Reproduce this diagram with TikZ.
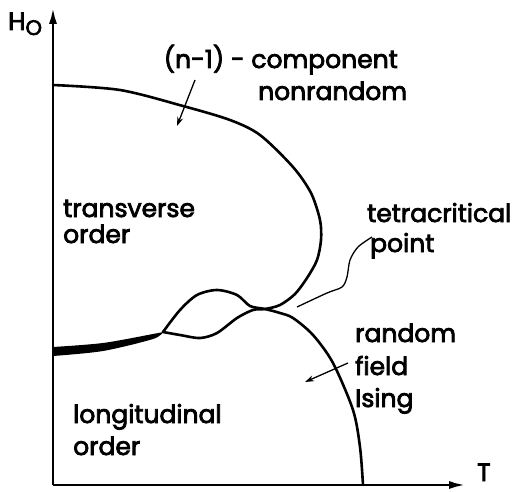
\documentclass[tikz,border=0pt]{standalone}
\usepackage{fontspec}
\setmainfont{Poppins}[FakeBold=3]
\usetikzlibrary{calc,arrows.meta}
\tikzset{
  axis/.style={line width=2.8pt, -{Latex[length=17pt,width=8pt]}},
  phase/.style={line width=2.6pt, line cap=round},
  pointer/.style={line width=1.3pt, -{Stealth[length=9pt,width=6pt]}},
  lbl/.style={font=\fontsize{25}{28}\selectfont, inner sep=0pt},
}
\begin{document}
\begin{tikzpicture}[x=1pt,y=1pt]
  \useasboundingbox (-53,-6) rectangle (469,485);

  % Axes
  \coordinate (O) at (0,0);
  \coordinate (Htip) at (0,478);
  \coordinate (Ttip) at (413,0);
  \draw[axis] (O) -- (Htip);
  \draw[axis] (O) -- (Ttip);
  \node[lbl, anchor=base west] (Hlabel) at (-45,455) {H\raisebox{-5pt}{\fontsize{21}{24}\selectfont O}};
  \node[lbl, anchor=base west] (Tlabel) at (424,4) {T};

  % Tetracritical point and lens junction
  \coordinate (P) at (212,176);
  \coordinate (J) at (110,153);

  % Outer phase boundary, continuing into lower lobe of the lens
  \draw[phase] plot[smooth] coordinates {(0,400) (67,395) (130,379) (177,365) (207,350)
    (240,318) (258,292) (267,265) (268,245) (264,225) (254,207) (242,191) (227,180)
    (P) (200,175) (184,167) (164,152) (147,147) (127,150) (J)};

  % Upper lobe of the lens, continuing into the random field Ising line
  \draw[phase] plot[smooth] coordinates {(J) (127,175) (144,190) (164,195) (184,190)
    (197,179) (P) (227,172) (240,167) (260,150) (280,122) (300,75) (307,38) (310,0)};

  % Thick first-order part
  \fill plot[smooth] coordinates {(0,138) (50,142) (100,151) (J)}
    -- plot[smooth] coordinates {(J) (100,146) (50,134) (0,129)} -- cycle;

  % Labels
  \node[lbl, anchor=base east] (ncomp) at (345,417) {(n-1) - component};
  \node[lbl, anchor=base west] (nonrand) at (205,385) {nonrandom};
  \node[lbl, anchor=base west] (trans) at (10,268) {transverse};
  \node[lbl, anchor=base west] (transo) at (10,242) {order};
  \node[lbl, anchor=base west] (tetra) at (314,263) {tetracritical};
  \node[lbl, anchor=base west] (point) at (317,233) {point};
  \node[lbl, anchor=base west] (rand) at (302,143) {random};
  \node[lbl, anchor=base west] (field) at (302,110) {field};
  \node[lbl, anchor=base west] (ising) at (302,78) {Ising};
  \node[lbl, anchor=base west] (longi) at (20,62) {longitudinal};
  \node[lbl, anchor=base west] (longo) at (20,30) {order};

  % Pointers
  \coordinate (ncTail) at (142,405);
  \coordinate (ncHead) at (124,359);
  \draw[pointer] (ncTail) -- (ncHead);
  \coordinate (rfTail) at (295,122);
  \coordinate (rfHead) at (252,103);
  \draw[pointer] (rfTail) -- (rfHead);
  \coordinate (tcTail) at (244,178);
  \draw[line width=1.3pt] plot[smooth] coordinates {(319,248) (305,238) (297,225)
    (294,208) (289,198) (274,192) (tcTail)};
\end{tikzpicture}
\end{document}
